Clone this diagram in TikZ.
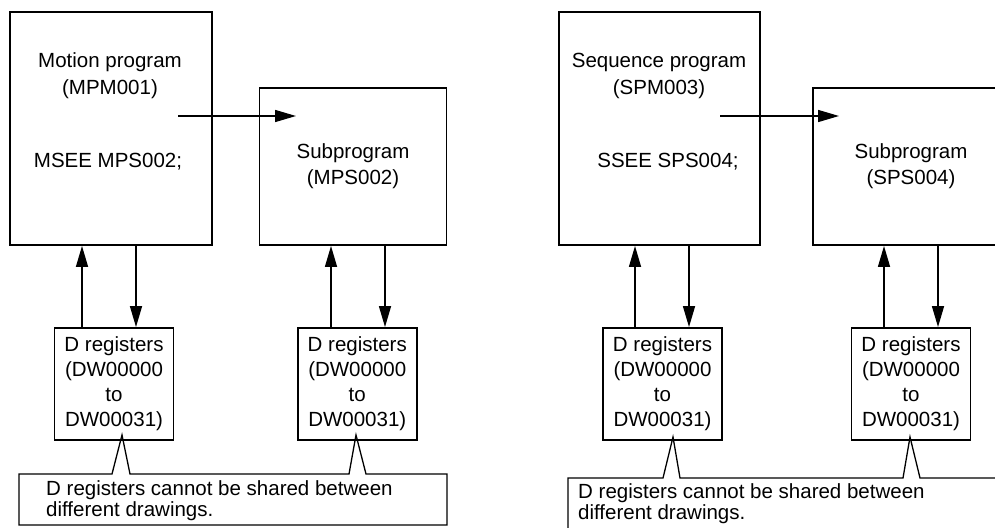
\documentclass[tikz,border=0pt]{standalone}
\usepackage{fontspec}
\setmainfont{Liberation Sans}
\usetikzlibrary{arrows.meta,calc}
\begin{document}
\begin{tikzpicture}[x=1pt,y=-1pt,
  box/.style={draw,line width=1.9pt,inner sep=0pt,align=center,
    font=\fontsize{20.5}{26}\selectfont},
  dbox/.style={draw,line width=1.9pt,inner sep=0pt,align=center,
    minimum width=119pt,minimum height=112pt,
    font=\fontsize{20.5}{25}\selectfont},
  txt/.style={inner sep=0pt,align=center,font=\fontsize{20.5}{27}\selectfont},
  ctxt/.style={inner sep=0pt,align=left,anchor=west,font=\fontsize{20.5}{21}\selectfont},
  arr/.style={line width=1.5pt,-{Triangle[length=21pt,width=12pt]}},
  call/.style={draw,line width=1.3pt,line join=miter}]
\useasboundingbox (0,0) rectangle (995,527);
\clip (0,0) rectangle (995,527);

% ---------- left group ----------
\node[box,minimum width=202pt,minimum height=233pt] (mp) at (111,128.5) {};
\node[txt] (mpt) at (110,76) {Motion program\\(MPM001)};
\node[txt] (mpc) at (108,162) {MSEE MPS002;};
\node[box,minimum width=187pt,minimum height=157pt] (ms) at (353,166.5) {Subprogram\\(MPS002)};
\coordinate (a1s) at (178,116);
\coordinate (a1e) at (296,116);
\draw[arr] (a1s) -- (a1e);

\node[dbox] (d1) at (114,384) {D registers\\(DW00000\\to\\DW00031)};
\node[dbox] (d2) at (357.25,384) {D registers\\(DW00000\\to\\DW00031)};
\draw[arr] ([xshift=-32pt]d1.north) -- ([xshift=-32pt]d1.north |- mp.south);
\draw[arr] ([xshift=22pt]d1.north |- mp.south) -- ([xshift=22pt]d1.north);
\draw[arr] ([xshift=-26.25pt]d2.north) -- ([xshift=-26.25pt]d2.north |- ms.south);
\draw[arr] ([xshift=27.75pt]d2.north |- ms.south) -- ([xshift=27.75pt]d2.north);

\draw[call] (19,474) -- (112,474) -- (122,435) -- (130,474) -- (349,474) -- (356,435) -- (366,474)
  -- (447,474) -- (447,525) -- (19,525) -- cycle;
\node[ctxt] (c1) at (46,500.5) {D registers cannot be shared between\\different drawings.};

% ---------- right group ----------
\node[box,minimum width=201pt,minimum height=233pt] (sp) at (659.5,128.5) {};
\node[txt] (spt) at (659,76) {Sequence program\\(SPM003)};
\node[txt] (spc) at (668,162) {SSEE SPS004;};
\node[box,minimum width=196pt,minimum height=157pt] (ss) at (911,166.5) {Subprogram\\(SPS004)};
\coordinate (a2s) at (720,116);
\coordinate (a2e) at (839,116);
\draw[arr] (a2s) -- (a2e);

\node[dbox] (d3) at (662.5,384) {D registers\\(DW00000\\to\\DW00031)};
\node[dbox] (d4) at (911,384) {D registers\\(DW00000\\to\\DW00031)};
\draw[arr] ([xshift=-27.5pt]d3.north) -- ([xshift=-27.5pt]d3.north |- sp.south);
\draw[arr] ([xshift=26.5pt]d3.north |- sp.south) -- ([xshift=26.5pt]d3.north);
\draw[arr] ([xshift=-27pt]d4.north) -- ([xshift=-27pt]d4.north |- ss.south);
\draw[arr] ([xshift=27pt]d4.north |- ss.south) -- ([xshift=27pt]d4.north);

\draw[call] (568,478) -- (663,478) -- (673,437) -- (680,478) -- (903,478) -- (910,437) -- (920,478)
  -- (1010,478) -- (1010,545) -- (568,545) -- cycle;
\node[ctxt] (c2) at (578,503.5) {D registers cannot be shared between\\different drawings.};
\end{tikzpicture}
\end{document}
